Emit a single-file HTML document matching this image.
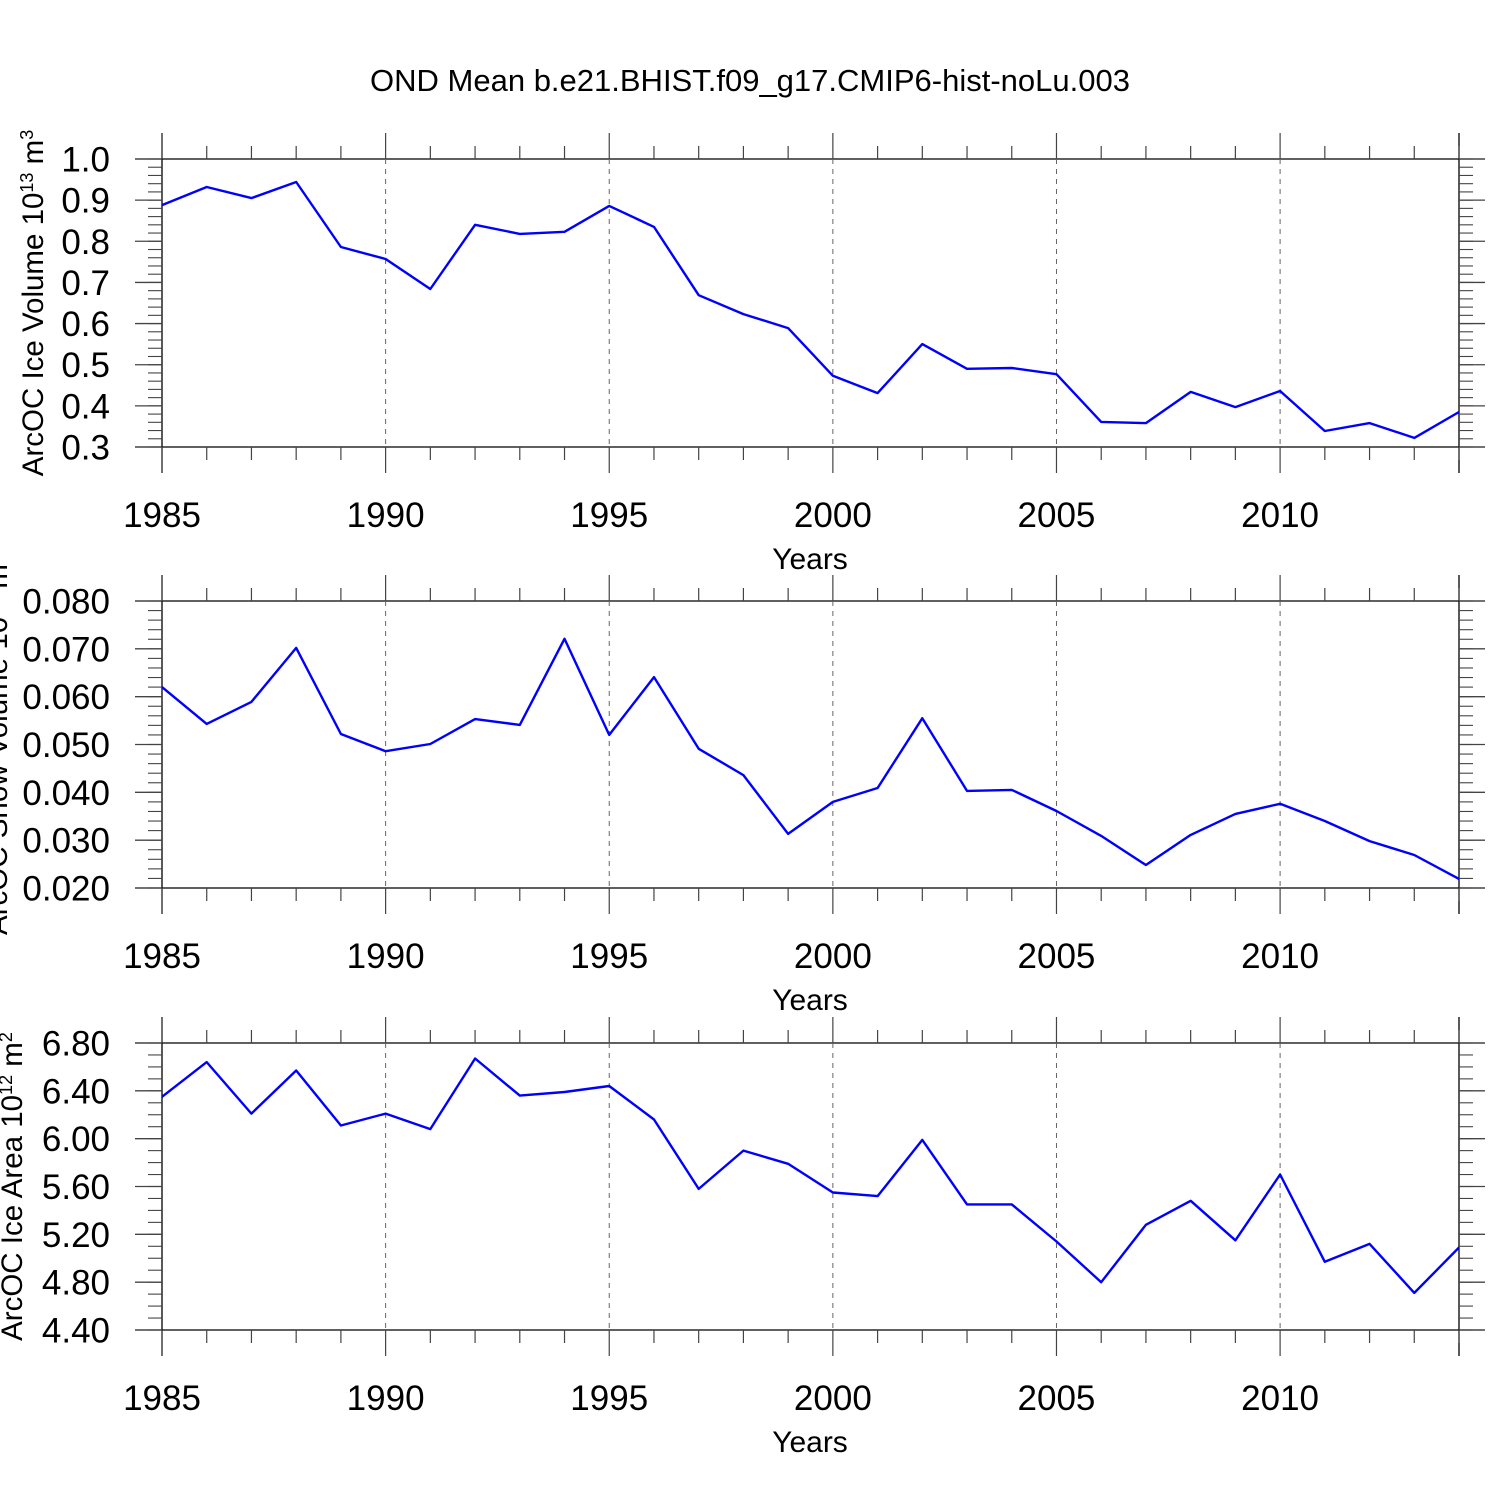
<!DOCTYPE html>
<html><head><meta charset="utf-8"><style>
html,body{margin:0;padding:0;background:#fff;}
svg{display:block;font-family:"Liberation Sans",Arial,sans-serif;}
</style></head><body>
<svg id="chart" width="1500" height="1500" viewBox="0 0 1500 1500" xmlns="http://www.w3.org/2000/svg">
<rect width="1500" height="1500" fill="#fff"/>
<text x="750" y="91" font-size="31" text-anchor="middle">OND Mean b.e21.BHIST.f09_g17.CMIP6-hist-noLu.003</text>
</svg>
<script>
const years = [1985,1986,1987,1988,1989,1990,1991,1992,1993,1994,1995,1996,1997,1998,1999,2000,2001,2002,2003,2004,2005,2006,2007,2008,2009,2010,2011,2012,2013,2014];
const iceVolume = [0.888,0.932,0.905,0.944,0.786,0.757,0.684,0.840,0.818,0.823,0.886,0.835,0.669,0.623,0.589,0.473,0.431,0.550,0.490,0.492,0.477,0.361,0.358,0.434,0.397,0.436,0.339,0.358,0.322,0.385];
const snowVolume = [0.0620,0.0543,0.0589,0.0702,0.0522,0.0486,0.0501,0.0553,0.0541,0.0721,0.0520,0.0641,0.0491,0.0436,0.0313,0.0380,0.0409,0.0555,0.0403,0.0405,0.0361,0.0309,0.0248,0.0311,0.0355,0.0376,0.0340,0.0298,0.0269,0.0219];
const iceArea = [6.35,6.64,6.21,6.57,6.11,6.21,6.08,6.67,6.36,6.39,6.44,6.16,5.58,5.90,5.79,5.55,5.52,5.99,5.45,5.45,5.14,4.80,5.28,5.48,5.15,5.70,4.97,5.12,4.71,5.09];
const xTickLabels = ["1985","1990","1995","2000","2005","2010"];
const ticks1 = [0.3,0.4,0.5,0.6,0.7,0.8,0.9,1.0];
const ticks2 = [0.02,0.03,0.04,0.05,0.06,0.07,0.08];
const ticks3 = [4.4,4.8,5.2,5.6,6.0,6.4,6.8];

const svg = document.getElementById('chart');
const NS = 'http://www.w3.org/2000/svg';
function mk(tag, attrs, parent){const e=document.createElementNS(NS,tag);for(const k in attrs)e.setAttribute(k,attrs[k]);(parent||svg).appendChild(e);return e;}
const X0=162, X1=1459, L=135, R=1485;
const xs = y => X0 + (y-1985)*(X1-X0)/29;

function panel(idx, top, bottom, vmin, vmax, ticks, dec, minorStep, data, titleParts, titleX){
  const g = mk('g',{});
  
  
  const ys = v => bottom - (v-vmin)*(bottom-top)/(vmax-vmin);
  const st='#000';
  mk('line',{x1:L,x2:R,y1:top,y2:top,stroke:st,'stroke-width':1.3},g);
  mk('line',{x1:L,x2:R,y1:bottom,y2:bottom,stroke:st,'stroke-width':1.3},g);
  mk('line',{x1:X0,x2:X0,y1:top-26,y2:bottom+26,stroke:st,'stroke-width':1.3},g);
  mk('line',{x1:X1,x2:X1,y1:top-26,y2:bottom+26,stroke:st,'stroke-width':1.3},g);
  years.forEach(y=>{
    const x=xs(y);
    const major = y%5===0;
    const len = major?26:13;
    mk('line',{x1:x,x2:x,y1:top-len,y2:top,stroke:'#444','stroke-width':1.2},g);
    mk('line',{x1:x,x2:x,y1:bottom,y2:bottom+len,stroke:'#444','stroke-width':1.2},g);
    if(major && y!==1985){
      mk('line',{x1:x,x2:x,y1:top,y2:bottom,stroke:'#666','stroke-width':1,'stroke-dasharray':'5,5'},g);
    }
  });
  xTickLabels.forEach(s=>{
    const t=mk('text',{x:xs(+s),y:bottom+80,'font-size':35,'text-anchor':'middle'},g);
    
    
    t.textContent=s;
  });
  const xt=mk('text',{x:810,y:bottom+122,'font-size':30,'text-anchor':'middle'},g);
  
  
  xt.textContent='Years';
  const n=Math.round((vmax-vmin)/minorStep);
  for(let i=0;i<=n;i++){
    const y=ys(vmin+i*minorStep);
    mk('line',{x1:X0-14,x2:X0,y1:y,y2:y,stroke:'#444','stroke-width':1.1},g);
    mk('line',{x1:X1,x2:X1+14,y1:y,y2:y,stroke:'#444','stroke-width':1.1},g);
  }
  ticks.forEach(v=>{
    const y=ys(v);
    mk('line',{x1:L,x2:X0,y1:y,y2:y,stroke:'#444','stroke-width':1.3},g);
    mk('line',{x1:X1,x2:R,y1:y,y2:y,stroke:'#444','stroke-width':1.3},g);
    const t=mk('text',{x:110,y:y+12.5,'font-size':35,'text-anchor':'end'},g);
    
    
    t.textContent=v.toFixed(dec);
  });
  const pts=data.map((v,i)=>xs(years[i]).toFixed(1)+','+ys(v).toFixed(1)).join(' ');
  const pl=mk('polyline',{points:pts,fill:'none',stroke:'#0000ff','stroke-width':2.4,'stroke-linejoin':'round'},g);
  
  
  const cy=(top+bottom)/2;
  const yt=mk('text',{x:0,y:0,'font-size':29.5,'text-anchor':'middle',transform:`translate(${titleX},${cy}) rotate(-90)`},g);
  
  
  titleParts.forEach(p=>{
    const ts=mk('tspan',{},yt);
    if(p[1]) {ts.setAttribute('baseline-shift','super');ts.setAttribute('font-size','18');}
    ts.textContent=p[0];
  });
}
panel(1,159,447,0.3,1.0,ticks1,1,0.02,iceVolume,[['ArcOC Ice Volume 10',0],['13',1],[' m',0],['3',1]],43);
panel(2,601,888,0.02,0.08,ticks2,3,0.002,snowVolume,[['ArcOC Snow Volume 10',0],['13',1],[' m',0],['3',1]],7);
panel(3,1043,1330,4.4,6.8,ticks3,2,0.1,iceArea,[['ArcOC Ice Area 10',0],['12',1],[' m',0],['2',1]],22);
</script>
</body></html>
